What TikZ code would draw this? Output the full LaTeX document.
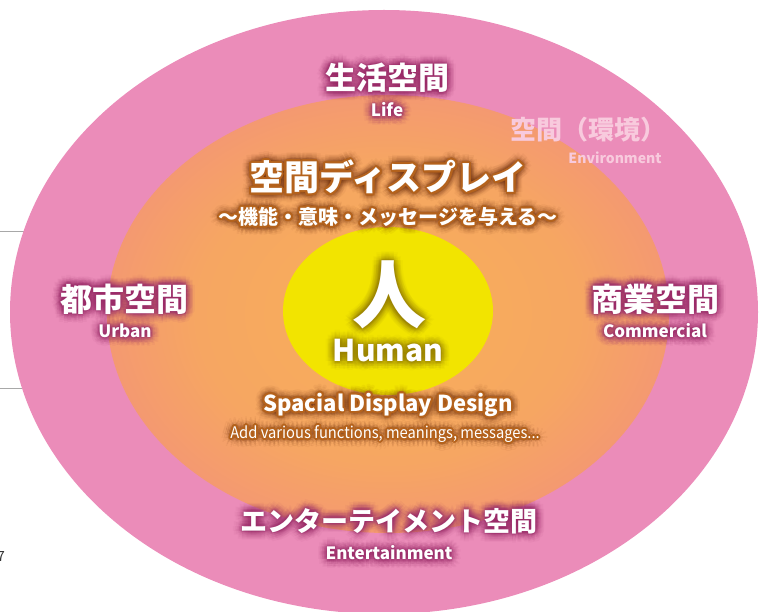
\documentclass[tikz,border=0pt]{standalone}
\usepackage{fontspec}
\newfontfamily\jp{Noto Sans CJK JP}
\usetikzlibrary{calc}
\definecolor{outerpink}{HTML}{EB8CB9}
\definecolor{gcen}{HTML}{F8B058}
\definecolor{gnear}{HTML}{F6A662}
\definecolor{gmid}{HTML}{F3917A}
\definecolor{gout}{HTML}{EF8284}
\definecolor{gedge}{HTML}{EE7C88}
\definecolor{humanyellow}{HTML}{F2E400}
\definecolor{magglow}{HTML}{9A2A68}
\definecolor{brownglow}{HTML}{6E3010}
\definecolor{brownline}{HTML}{B4621C}
\definecolor{yelglow}{HTML}{9A8200}
\definecolor{envpink}{HTML}{F8CADD}
\definecolor{sidegray}{HTML}{A8A8A8}
\pgfdeclareradialshading{innerglow}{\pgfpoint{0bp}{0bp}}{color(0bp)=(gcen); color(17bp)=(gnear); color(30bp)=(gmid); color(42bp)=(gout); color(50bp)=(gedge); color(75bp)=(gedge)}
\newcommand\glowtxt[5]{%
  \foreach \rr/\oo in {9/0.05,7/0.06,5/0.07,3/0.09,1.5/0.1}{
    \foreach \aa in {0,30,...,330}{
      \node[font={#3},text=#4,opacity=\oo,inner sep=0pt] at ($(#2)+(\aa:\rr)$) {#5};
    }}
  \node[font={#3},text=white,inner sep=0pt] (#1) at (#2) {#5};
}
\newcommand\outltxt[6]{%
  \foreach \rr/\oo in {9/0.05,7/0.06,5/0.07,3.5/0.09}{
    \foreach \aa in {0,30,...,330}{
      \node[font={#3},text=#4,opacity=\oo,inner sep=0pt] at ($(#2)+(\aa:\rr)$) {#6};
    }}
  \foreach \aa in {0,22.5,...,337.5}{
    \node[font={#3},text=#5,inner sep=0pt] at ($(#2)+(\aa:1.9)$) {#6};
  }
  \node[font={#3},text=white,inner sep=0pt] (#1) at (#2) {#6};
}
\begin{document}
\begin{tikzpicture}[x=1pt,y=-1pt]
\useasboundingbox (0,0) rectangle (763,612);
% side lines and page number fragment
\coordinate (l1a) at (0,232); \coordinate (l1b) at (25,232);
\coordinate (l2a) at (0,388); \coordinate (l2b) at (25,388);
\draw[sidegray,line width=1pt] (l1a) -- (l1b);
\draw[sidegray,line width=1pt] (l2a) -- (l2b);
\node[font=\fontsize{14}{14}\selectfont\jp,text=black!80,anchor=east,inner sep=0pt] (pg) at (5,557) {7};
% ellipses
\fill[outerpink] (384,312) ellipse [x radius=374, y radius=302];
\shade[shading=innerglow] (388,314) ellipse [x radius=281, y radius=219];
\fill[humanyellow] (388,311) ellipse [x radius=105, y radius=84];
% outer labels
\glowtxt{life}{387,78}{\fontsize{31}{31}\selectfont\jp\bfseries}{magglow}{生活空間}
\glowtxt{lifeE}{387,110}{\fontsize{17}{17}\selectfont\jp\bfseries}{magglow}{Life}
\glowtxt{urban}{124,299}{\fontsize{32}{32}\selectfont\jp\bfseries}{magglow}{都市空間}
\glowtxt{urbanE}{125,331}{\fontsize{17}{17}\selectfont\jp\bfseries}{magglow}{Urban}
\glowtxt{comm}{655,299}{\fontsize{32}{32}\selectfont\jp\bfseries}{magglow}{商業空間}
\glowtxt{commE}{655,331}{\fontsize{17}{17}\selectfont\jp\bfseries}{magglow}{Commercial}
\glowtxt{ent}{389,521}{\fontsize{27}{27}\selectfont\jp\bfseries}{magglow}{エンターテイメント空間}
\glowtxt{entE}{389,553}{\fontsize{17}{17}\selectfont\jp\bfseries}{magglow}{Entertainment}
\node[font=\fontsize{26}{26}\selectfont\jp\bfseries,text=envpink,inner sep=0pt] (env) at (588,130) {空間（環境）};
\node[font=\fontsize{14}{14}\selectfont\jp\bfseries,text=envpink,inner sep=0pt] (envE) at (615,158) {Environment};
% inner display labels
\outltxt{disp}{388,177}{\fontsize{35}{35}\selectfont\jp\bfseries}{brownglow}{brownline}{空間ディスプレイ}
\outltxt{dispsub}{388,217}{\fontsize{20}{20}\selectfont\jp\bfseries}{brownglow}{brownline}{～機能・意味・メッセージを与える～}
\outltxt{sdd}{388,405}{\fontsize{22}{22}\selectfont\jp\bfseries}{brownglow}{brownline}{Spacial Display Design}
\outltxt{sddsub}{385,434}{\fontsize{16}{16}\selectfont\jp}{brownglow}{brownline}{\scalebox{0.92}[1]{Add various functions, meanings, messages...}}
% human
\glowtxt{hito}{389,295}{\fontsize{74}{74}\selectfont\jp\bfseries}{yelglow}{人}
\glowtxt{human}{388,351}{\fontsize{30}{30}\selectfont\jp\bfseries}{yelglow}{Human}
\end{tikzpicture}
\end{document}
